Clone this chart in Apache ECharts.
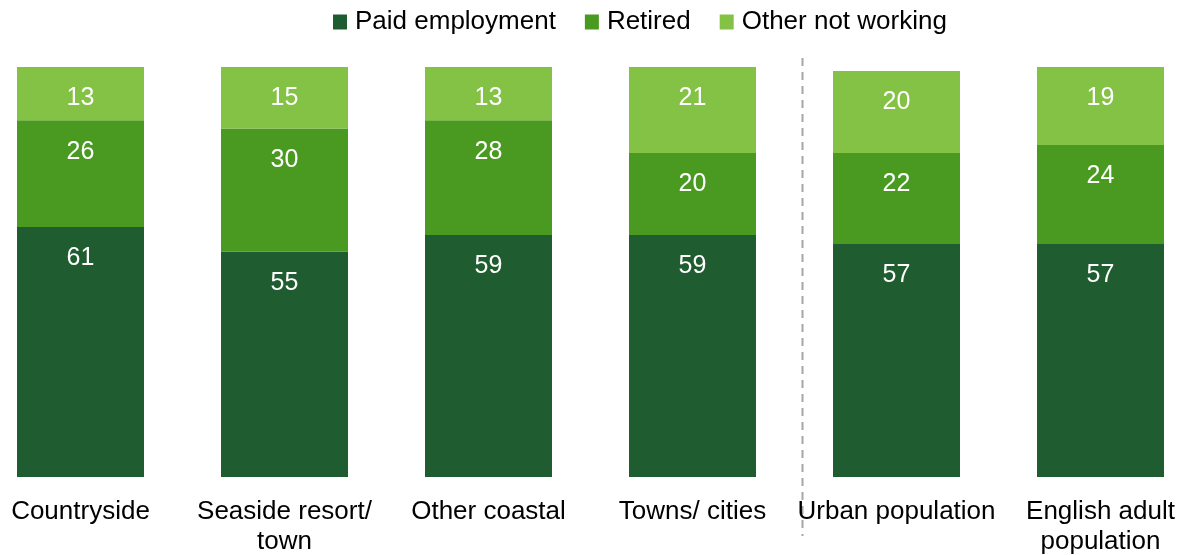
<!DOCTYPE html>
<html lang="en">
<head>
    <meta charset="UTF-8">
    <title>Employment status by area</title>
    <script src="https://cdn.jsdelivr.net/npm/echarts/dist/echarts.min.js"></script>
    <style>
        html, body { margin: 0; padding: 0; background: #fff; }
    </style>
</head>
<body>
    <div id="main" style="width: 1188px;height:555px;"></div>
    <script>
        // data (percent)
        const categories = ['Countryside', 'Seaside resort/\ntown', 'Other coastal', 'Towns/ cities', 'Urban population', 'English adult\npopulation'];
        const paidEmployment = [61, 55, 59, 59, 57, 57];
        const retired = [26, 30, 28, 20, 22, 24];
        const otherNotWorking = [13, 15, 13, 21, 20, 19];

        const font = '"Liberation Sans", Arial, sans-serif';
        const colors = ['#1f5c30', '#4a9a22', '#83c244'];

        function barSeries(name, data, color) {
            return {
                name: name,
                type: 'bar',
                stack: 'total',
                data: data,
                barWidth: 127,
                itemStyle: { color: color },
                label: {
                    show: true,
                    position: 'insideTop',
                    distance: 19,
                    color: '#fff',
                    fontSize: 25,
                    fontFamily: font
                }
            };
        }

        var chart = echarts.init(document.getElementById('main'));
        var option = {
            animation: false,
            legend: {
                top: 4,
                left: 328,
                itemWidth: 14,
                itemHeight: 15,
                itemGap: 29,
                icon: 'rect',
                textStyle: { fontSize: 26, fontFamily: font, color: '#000', padding: [0, 0, 0, 3] },
                data: ['Paid employment', 'Retired', 'Other not working']
            },
            grid: {
                left: -21.5,
                width: 1224,
                top: 67,
                bottom: 78,
                containLabel: false,
                outerBoundsMode: 'none'
            },
            xAxis: {
                type: 'category',
                data: categories,
                axisLine: { show: false },
                axisTick: { show: false },
                axisLabel: {
                    margin: 20,
                    fontSize: 26,
                    lineHeight: 30,
                    fontFamily: font,
                    color: '#000',
                    interval: 0
                }
            },
            yAxis: {
                type: 'value',
                min: 0,
                max: 100,
                show: false
            },
            graphic: [{
                type: 'line',
                shape: { x1: 802.5, y1: 58, x2: 802.5, y2: 536 },
                style: { stroke: '#a6a6a6', lineWidth: 2, lineDash: [8, 6] },
                silent: true
            }],
            series: [
                barSeries('Paid employment', paidEmployment, colors[0]),
                barSeries('Retired', retired, colors[1]),
                barSeries('Other not working', otherNotWorking, colors[2])
            ]
        };

        chart.setOption(option);
    </script>
</body>
</html>
